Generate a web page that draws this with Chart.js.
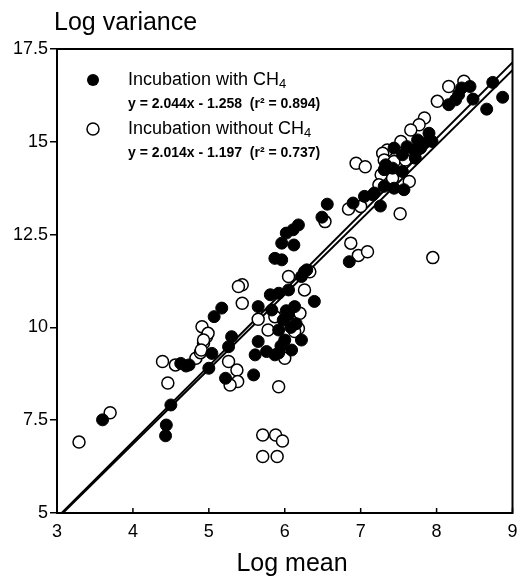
<!DOCTYPE html>
<html>
<head>
<meta charset="utf-8">
<script src="https://cdn.jsdelivr.net/npm/chart.js@4/dist/chart.umd.min.js"></script>
<style>
html,body{margin:0;padding:0;background:#fff;}
#wrap{width:520px;height:576px;position:relative;}
</style>
</head>
<body>
<div id="wrap"><canvas id="c" width="520" height="576"></canvas></div>
<script>
// ---- data ----
const withX = [3.60,4.50,4.44,4.43,4.63,4.70,4.74,5.07,5.17,5.30,5.26,5.04,5.00,5.22,5.59,5.65,5.81,5.92,6.05,5.65,5.61,5.76,5.87,5.98,6.05,5.92,6.00,6.22,6.13,6.39,5.83,6.09,6.56,6.49,6.18,6.11,6.02,5.96,6.12,5.87,5.96,6.29,6.22,6.26,6.90,7.05,7.18,7.26,6.85,7.90,7.94,7.83,7.75,7.70,7.79,7.61,7.55,7.72,7.44,7.33,7.31,7.42,7.55,7.44,7.57,7.31,7.16,8.33,8.44,8.29,8.25,8.16,8.48,8.74,8.87,8.66,6.08,6.15,6.02,5.95,5.92];
const withY = [7.51,7.91,7.37,7.08,9.03,8.96,8.99,10.29,10.52,9.75,9.48,9.30,8.90,8.63,8.72,10.56,10.88,10.92,11.01,9.62,9.26,9.35,9.26,10.20,10.34,9.93,9.66,9.66,10.56,10.70,10.47,9.39,13.32,12.97,12.76,12.63,12.54,12.27,12.22,11.86,11.82,11.55,11.37,11.50,13.35,13.53,13.62,13.27,11.77,15.23,15.01,14.96,15.05,14.78,14.83,14.87,14.65,14.56,14.83,14.38,14.25,14.29,14.20,13.75,13.71,13.80,13.57,16.45,16.49,16.27,16.13,16.00,16.15,16.60,16.20,15.88,10.00,10.10,10.45,9.50,9.31];
const withoutX = [3.29,3.70,4.39,4.46,4.56,4.83,4.89,4.93,4.97,4.91,4.99,4.93,4.90,5.44,5.39,5.44,5.26,5.37,5.38,5.28,5.65,5.78,6.20,6.26,6.05,6.18,6.00,5.92,6.53,6.33,6.84,7.00,7.52,6.87,6.97,7.09,7.95,6.94,7.06,7.84,7.77,7.66,7.53,7.35,7.29,7.31,7.44,7.59,7.27,7.42,7.64,7.24,8.16,8.36,8.01,5.71,5.88,5.97,5.71,5.90,6.13,5.87];
const withoutY = [6.91,7.70,9.08,8.50,8.99,9.17,9.32,9.58,9.75,10.02,9.84,9.66,9.39,11.15,11.10,10.65,9.08,8.85,8.54,8.45,10.22,9.93,10.38,11.01,11.37,9.97,9.17,8.40,12.85,11.50,13.19,13.26,13.06,12.27,11.94,12.04,11.88,14.42,14.33,15.64,15.46,15.32,15.01,14.78,14.69,14.51,14.47,14.51,14.11,14.02,13.93,13.84,16.49,16.63,16.09,7.10,7.10,6.94,6.52,6.52,9.89,10.29];
// regression line end points (x = 3 and x = 9)
const fitX = [3, 9];
const fitWithY = [4.874, 17.138];
const fitWithoutY = [4.845, 16.929];
const xTicks = [3, 4, 5, 6, 7, 8, 9];
const yTicks = [5, 7.5, 10, 12.5, 15, 17.5];
const legendLabels = ["Incubation with CH", "Incubation without CH"];
const equations = ["y = 2.044x - 1.258  (r\u00B2 = 0.894)", "y = 2.014x - 1.197  (r\u00B2 = 0.737)"];
const xTitle = "Log mean";
const yTitle = "Log variance";

const pts = (xs, ys) => xs.map((x, i) => ({x: x, y: ys[i]}));
const FONT = '"Liberation Sans", Arial, Helvetica, sans-serif';

const decor = {
  id: 'decor',
  afterDatasetsDraw(chart) {
    const ctx = chart.ctx, a = chart.chartArea, xs = chart.scales.x;
    ctx.save();
    // frame
    ctx.strokeStyle = '#000';
    ctx.lineWidth = 2;
    ctx.strokeRect(a.left, a.top, a.right - a.left, a.bottom - a.top);
    // inside x ticks
    ctx.lineWidth = 1.5;
    xTicks.forEach(v => {
      const p = xs.getPixelForValue(v);
      ctx.beginPath(); ctx.moveTo(p, a.bottom); ctx.lineTo(p, a.bottom - 5); ctx.stroke();
    });
    // titles
    ctx.fillStyle = '#000';
    ctx.font = '25px ' + FONT;
    ctx.textBaseline = 'alphabetic';
    ctx.textAlign = 'left';
    ctx.fillText(yTitle, 54, 30);
    ctx.textAlign = 'center';
    ctx.fillText(xTitle, 292, 571);
    // legend
    const rows = [{y: 80, filled: true}, {y: 129, filled: false}];
    rows.forEach((r, i) => {
      ctx.beginPath();
      ctx.arc(93, r.y, 6, 0, Math.PI * 2);
      if (r.filled) { ctx.fillStyle = '#000'; ctx.fill(); }
      else { ctx.fillStyle = '#fff'; ctx.fill(); ctx.lineWidth = 1.5; ctx.strokeStyle = '#000'; ctx.stroke(); }
      ctx.fillStyle = '#000';
      ctx.textAlign = 'left';
      ctx.textBaseline = 'middle';
      ctx.font = '18px ' + FONT;
      ctx.fillText(legendLabels[i], 128, r.y);
      const w = ctx.measureText(legendLabels[i]).width;
      ctx.font = '13px ' + FONT;
      ctx.fillText('4', 128 + w, r.y + 4);
      ctx.font = 'bold 14px ' + FONT;
      ctx.fillText(equations[i], 128, r.y + 24);
    });
    ctx.restore();
  }
};

new Chart(document.getElementById('c'), {
  type: 'scatter',
  data: {
    datasets: [
      {label: 'with', data: pts(withX, withY), backgroundColor: '#000', borderColor: '#000', borderWidth: 1, pointRadius: 6, order: 1},
      {label: 'without', data: pts(withoutX, withoutY), backgroundColor: '#fff', borderColor: '#000', borderWidth: 1.5, pointRadius: 6, order: 2},
      {type: 'line', label: 'fit1', data: pts(fitX, fitWithY), borderColor: '#000', borderWidth: 2, pointRadius: 0, fill: false, order: 3},
      {type: 'line', label: 'fit2', data: pts(fitX, fitWithoutY), borderColor: '#000', borderWidth: 2, pointRadius: 0, fill: false, order: 4}
    ]
  },
  options: {
    responsive: false,
    animation: false,
    events: [],
    layout: {padding: {left: 0, right: 4, top: 49, bottom: 0}},
    plugins: {legend: {display: false}, tooltip: {enabled: false}, title: {display: false}},
    scales: {
      x: {
        type: 'linear', min: 3, max: 9,
        afterBuildTicks: s => { s.ticks = xTicks.map(v => ({value: v})); },
        afterFit: s => { s.height = 63; },
        grid: {display: false},
        border: {display: false},
        ticks: {color: '#000', font: {family: FONT, size: 18}, padding: 0, maxRotation: 0}
      },
      y: {
        type: 'linear', min: 5, max: 17.5,
        afterBuildTicks: s => { s.ticks = yTicks.map(v => ({value: v})); },
        afterFit: s => { s.width = 57; },
        grid: {drawOnChartArea: false, drawTicks: true, tickLength: 7, color: '#000', lineWidth: 1.5},
        border: {display: false},
        ticks: {color: '#000', font: {family: FONT, size: 18}, padding: 2}
      }
    }
  },
  plugins: [decor]
});
</script>
</body>
</html>
